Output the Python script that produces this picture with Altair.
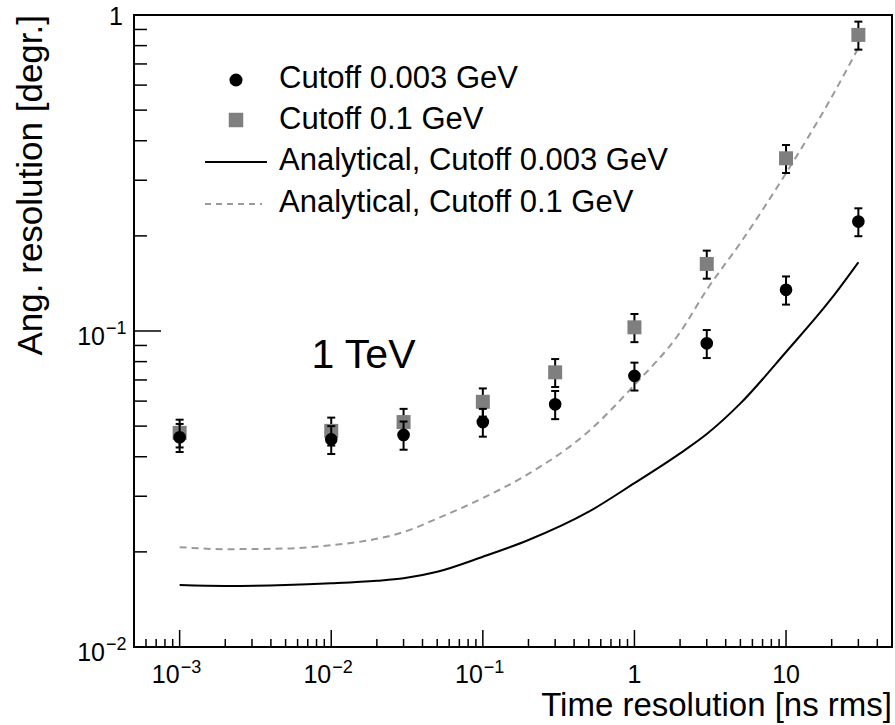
import altair as alt
import pandas as pd

# ---------------- data ----------------
time_res = [0.001, 0.01, 0.03, 0.1, 0.3, 1, 3, 10, 30]
res_cut003 = [0.0461, 0.0454, 0.0469, 0.0515, 0.0586, 0.0721, 0.0914, 0.135, 0.222]
err_cut003 = [0.0047, 0.0046, 0.0048, 0.0052, 0.0060, 0.0073, 0.0093, 0.0138, 0.0225]
res_cut01 = [0.0476, 0.0483, 0.0515, 0.0597, 0.0740, 0.1027, 0.163, 0.352, 0.865]
err_cut01 = [0.0048, 0.0049, 0.0052, 0.0061, 0.0075, 0.0105, 0.0166, 0.0358, 0.088]

curve_t = [0.001, 0.002, 0.005, 0.01, 0.02, 0.03, 0.05, 0.1, 0.2, 0.5, 1, 2, 3, 5, 10, 20, 30]
curve_cut003 = [0.0157, 0.0156, 0.0157, 0.0159, 0.0162, 0.0165, 0.0173, 0.0193, 0.0218,
                0.0268, 0.0330, 0.0410, 0.0472, 0.0590, 0.0858, 0.1270, 0.1650]
curve_cut01 = [0.0207, 0.0204, 0.0205, 0.0210, 0.0220, 0.0231, 0.0255, 0.0296, 0.0353,
               0.0482, 0.0675, 0.0990, 0.1350, 0.1900, 0.3160, 0.5500, 0.7870]

legend_labels = ["Cutoff 0.003 GeV", "Cutoff 0.1 GeV",
                 "Analytical, Cutoff 0.003 GeV", "Analytical, Cutoff 0.1 GeV"]

x_title = ["Time resolution [ns rms]"]
y_title = ["Ang. resolution [degr.]"]

annot_text = ["1 TeV"]
annot_t = [0.0074]
annot_r = [0.0763]

x_major = [0.001, 0.01, 0.1, 1, 10]
x_minor = [m * 10.0 ** e for e in range(-4, 2) for m in range(2, 10)
           if 5e-4 < m * 10.0 ** e < 50]
y_major = [0.01, 0.1, 1]
y_minor = [m * 10.0 ** e for e in range(-2, 0) for m in range(2, 10)]

x_lab_val = [0.001, 0.01, 0.1, 1, 10]
x_lab_base = ["10", "10", "10", "1", "10"]
x_lab_exp = ["\u22123", "\u22122", "\u22121", "", ""]
y_lab_val = [0.01, 0.1, 1]
y_lab_base = ["10", "10", "1"]
y_lab_exp = ["\u22122", "\u22121", ""]

# ---------------- layout / style ----------------
W, H = 758, 632
FONT = "Liberation Sans"
GRAY_SQ = "#7f7f7f"
GRAY_LN = "#9a9a9a"

xs = alt.Scale(type="log", domain=[5e-4, 50], nice=False)
ys = alt.Scale(type="log", domain=[0.01, 1], nice=False)

pts = pd.DataFrame({"t": time_res, "r1": res_cut003, "e1": err_cut003,
                    "r2": res_cut01, "e2": err_cut01})
pts["lo1"] = pts["r1"] - pts["e1"]
pts["hi1"] = pts["r1"] + pts["e1"]
pts["lo2"] = pts["r2"] - pts["e2"]
pts["hi2"] = pts["r2"] + pts["e2"]
curves = pd.DataFrame({"t": curve_t, "a1": curve_cut003, "a2": curve_cut01})

X = lambda f: alt.X(f, scale=xs, axis=None)
Y = lambda f: alt.Y(f, scale=ys, axis=None)

# ticks (inside frame, ROOT style)
xmaj = alt.Chart(pd.DataFrame({"v": x_major})).mark_rule(color="black", strokeWidth=1.5).encode(
    x=X("v:Q"), y=alt.value(H), y2=alt.value(H - 17))
xmin = alt.Chart(pd.DataFrame({"v": x_minor})).mark_rule(color="black", strokeWidth=1.5).encode(
    x=X("v:Q"), y=alt.value(H), y2=alt.value(H - 8))
ymaj = alt.Chart(pd.DataFrame({"v": y_major})).mark_rule(color="black", strokeWidth=1.5).encode(
    y=Y("v:Q"), x=alt.value(0), x2=alt.value(27))
ymin = alt.Chart(pd.DataFrame({"v": y_minor})).mark_rule(color="black", strokeWidth=1.5).encode(
    y=Y("v:Q"), x=alt.value(0), x2=alt.value(13))

# analytical curves
line1 = alt.Chart(curves).mark_line(color="black", strokeWidth=2, interpolate="monotone").encode(
    x=X("t:Q"), y=Y("a1:Q"))
line2 = alt.Chart(curves).mark_line(color=GRAY_LN, strokeWidth=2, strokeDash=[7, 5],
                                    interpolate="monotone").encode(
    x=X("t:Q"), y=Y("a2:Q"))

# error bars + markers
def errbars(lo, hi):
    bar = alt.Chart(pts).mark_rule(color="black", strokeWidth=2).encode(
        x=X("t:Q"), y=Y(f"{lo}:Q"), y2=f"{hi}:Q")
    cap_lo = alt.Chart(pts).mark_rule(color="black", strokeWidth=2, xOffset=-4, x2Offset=4).encode(
        x=X("t:Q"), x2="t:Q", y=Y(f"{lo}:Q"))
    cap_hi = alt.Chart(pts).mark_rule(color="black", strokeWidth=2, xOffset=-4, x2Offset=4).encode(
        x=X("t:Q"), x2="t:Q", y=Y(f"{hi}:Q"))
    return [bar, cap_lo, cap_hi]

squares = alt.Chart(pts).mark_point(shape="square", filled=True, size=196, color=GRAY_SQ, opacity=1).encode(
    x=X("t:Q"), y=Y("r2:Q"))
circles = alt.Chart(pts).mark_point(shape="circle", filled=True, size=160, color="black", opacity=1).encode(
    x=X("t:Q"), y=Y("r1:Q"))

# annotation
annot = alt.Chart(pd.DataFrame({"t": annot_t, "r": annot_r, "s": annot_text})).mark_text(
    font=FONT, fontSize=41, align="left", baseline="alphabetic", color="black").encode(
    x=X("t:Q"), y=Y("r:Q"), text="s:N")

# tick labels
xl = pd.DataFrame({"v": x_lab_val, "b": x_lab_base, "e": x_lab_exp})
xl_base_e = alt.Chart(xl).transform_filter("datum.e != ''").mark_text(
    font=FONT, fontSize=25, align="right", baseline="alphabetic", color="black").encode(
    x=X("v:Q"), y=alt.value(H + 36), text="b:N")
xl_exp = alt.Chart(xl).transform_filter("datum.e != ''").mark_text(
    font=FONT, fontSize=18, align="left", baseline="alphabetic", color="black", dx=1).encode(
    x=X("v:Q"), y=alt.value(H + 26), text="e:N")
xl_plain = alt.Chart(xl).transform_filter("datum.e == ''").mark_text(
    font=FONT, fontSize=25, align="center", baseline="alphabetic", color="black").encode(
    x=X("v:Q"), y=alt.value(H + 36), text="b:N")

yl = pd.DataFrame({"v": y_lab_val, "b": y_lab_base, "e": y_lab_exp})
yl_base_e = alt.Chart(yl).transform_filter("datum.e != ''").mark_text(
    font=FONT, fontSize=25, align="right", baseline="alphabetic", color="black", dy=14).encode(
    y=Y("v:Q"), x=alt.value(-29), text="b:N")
yl_exp = alt.Chart(yl).transform_filter("datum.e != ''").mark_text(
    font=FONT, fontSize=18, align="left", baseline="alphabetic", color="black", dy=3).encode(
    y=Y("v:Q"), x=alt.value(-28), text="e:N")
yl_plain = alt.Chart(yl).transform_filter("datum.e == ''").mark_text(
    font=FONT, fontSize=25, align="right", baseline="alphabetic", color="black", dy=10).encode(
    y=Y("v:Q"), x=alt.value(-11), text="b:N")

# axis titles
xtitle = alt.Chart(pd.DataFrame({"s": x_title})).mark_text(
    font=FONT, fontSize=33, align="right", baseline="alphabetic", color="black").encode(
    x=alt.value(W), y=alt.value(H + 69), text="s:N")
ytitle = alt.Chart(pd.DataFrame({"s": y_title})).mark_text(
    font=FONT, fontSize=35, align="right", baseline="alphabetic", color="black", angle=270).encode(
    x=alt.value(-92), y=alt.value(0), text="s:N")

# legend (drawn by hand, ROOT style)
def leg_text(i, ypix):
    return alt.Chart(pd.DataFrame({"s": [legend_labels[i]]})).mark_text(
        font=FONT, fontSize=31, align="left", baseline="alphabetic", color="black").encode(
        x=alt.value(145), y=alt.value(ypix), text="s:N")

one = pd.DataFrame({"k": [0]})
leg = [
    alt.Chart(one).mark_point(shape="circle", filled=True, size=170, color="black", opacity=1).encode(
        x=alt.value(102), y=alt.value(65)),
    alt.Chart(one).mark_point(shape="square", filled=True, size=210, color=GRAY_SQ, opacity=1).encode(
        x=alt.value(102), y=alt.value(105)),
    alt.Chart(one).mark_rule(color="black", strokeWidth=2).encode(
        x=alt.value(71), x2=alt.value(133), y=alt.value(147)),
    alt.Chart(one).mark_rule(color=GRAY_LN, strokeWidth=2, strokeDash=[6, 5]).encode(
        x=alt.value(71), x2=alt.value(128), y=alt.value(189)),
    leg_text(0, 73), leg_text(1, 114), leg_text(2, 155), leg_text(3, 197),
]

layers = [line1, xmaj, xmin, ymaj, ymin, line2]
layers += errbars("lo2", "hi2") + [squares]
layers += errbars("lo1", "hi1") + [circles]
layers += [annot, xl_base_e, xl_exp, xl_plain, yl_base_e, yl_exp, yl_plain, xtitle, ytitle] + leg

chart = alt.layer(*layers).properties(
    width=W, height=H,
    padding={"left": 134, "top": 15, "right": 3, "bottom": 78},
    autosize=alt.AutoSizeParams(type="none"),
    background="white",
).configure_view(stroke="black", strokeWidth=2)

chart.save("out.html", embed_options={"renderer": "svg", "actions": False})
